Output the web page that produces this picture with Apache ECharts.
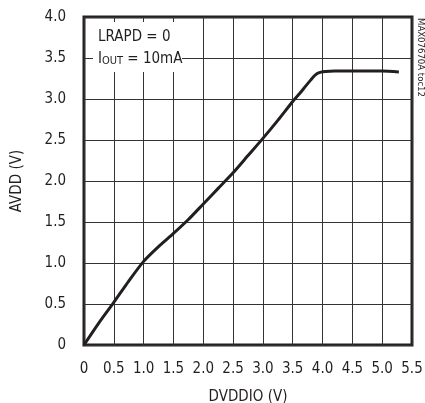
<!DOCTYPE html>
<html>
<head>
<meta charset="utf-8">
<script src="https://cdn.jsdelivr.net/npm/echarts@6/dist/echarts.min.js"></script>
<style>
html,body{margin:0;padding:0;background:#fff;}
#c{width:425px;height:403px;}
</style>
</head>
<body>
<div id="c"></div>
<script>
// DVDDIO (V)
var xValues = [0, 0.25, 0.5, 0.75, 1.0, 1.25, 1.5, 1.75, 2.0, 2.25, 2.5, 2.75, 3.0, 3.25, 3.5, 3.62, 3.72, 3.8, 3.86, 3.91, 3.96, 4.05, 4.2, 4.5, 4.8, 5.0, 5.28];
// AVDD (V)
var yValues = [0, 0.27, 0.52, 0.78, 1.02, 1.2, 1.36, 1.53, 1.72, 1.91, 2.1, 2.31, 2.52, 2.74, 2.97, 3.07, 3.16, 3.23, 3.28, 3.31, 3.325, 3.335, 3.34, 3.34, 3.34, 3.34, 3.33];
var xTicks = [0, 0.5, 1.0, 1.5, 2.0, 2.5, 3.0, 3.5, 4.0, 4.5, 5.0, 5.5];
var yTicks = [0, 0.5, 1.0, 1.5, 2.0, 2.5, 3.0, 3.5, 4.0];
var xName = 'DVDDIO (V)';
var yName = 'AVDD (V)';
var noteLine1 = 'LRAPD = 0';
var noteLine2 = '{n|I}{s|OUT}{n| = 10mA}';
var sideNote = 'MAX07670A toc12';

var FONT = '"Liberation Sans Narrow", "DejaVu Sans Condensed", "Liberation Sans", sans-serif';
var INK = '#231f20';

var data = xValues.map(function (x, i) { return [x, yValues[i]]; });
function fmt(v) { return v === 0 ? '0' : v.toFixed(1); }

var chart = echarts.init(document.getElementById('c'), null, {renderer: 'canvas'});
chart.setOption({
  animation: false,
  backgroundColor: '#fff',
  grid: {left: 84, right: 13, top: 17, bottom: 58, containLabel: false, outerBoundsMode: 'none',
         show: true, borderWidth: 3, borderColor: INK, backgroundColor: 'transparent'},
  xAxis: {
    type: 'value', min: xTicks[0], max: xTicks[xTicks.length - 1], interval: 0.5,
    name: xName, nameLocation: 'middle', nameGap: 45,
    nameTextStyle: {fontFamily: FONT, fontSize: 15, color: INK},
    axisLine: {show: false}, axisTick: {show: false},
    axisLabel: {margin: 17, fontFamily: FONT, fontSize: 15, color: INK, formatter: fmt},
    splitLine: {show: true, lineStyle: {color: '#333', width: 1}}
  },
  yAxis: {
    type: 'value', min: yTicks[0], max: yTicks[yTicks.length - 1], interval: 0.5,
    name: yName, nameLocation: 'middle', nameGap: 59,
    nameTextStyle: {fontFamily: FONT, fontSize: 15, color: INK},
    axisLine: {show: false}, axisTick: {show: false},
    axisLabel: {margin: 18, fontFamily: FONT, fontSize: 15, color: INK, formatter: fmt},
    splitLine: {show: true, lineStyle: {color: '#333', width: 1}}
  },
  series: [{
    type: 'line', data: data, smooth: 0.25, showSymbol: false, symbol: 'none',
    lineStyle: {color: INK, width: 3}, z: 3
  }],
  graphic: [
    {type: 'rect', shape: {x: 93, y: 22, width: 89, height: 50}, style: {fill: '#fff'}, z: 10},
    {type: 'text', x: 98, y: 37, z: 11, style: {text: noteLine1, font: '15px ' + FONT, fill: INK, verticalAlign: 'middle'}},
    {type: 'text', x: 98, y: 58, z: 11, style: {
      text: noteLine2, fill: INK, verticalAlign: 'middle',
      rich: {
        n: {fontFamily: FONT, fontSize: 15, color: INK, verticalAlign: 'bottom', lineHeight: 18},
        s: {fontFamily: FONT, fontSize: 11, color: INK, verticalAlign: 'bottom', lineHeight: 13}
      }
    }},
    {type: 'text', x: 420, y: 18, rotation: -Math.PI / 2, z: 11, style: {text: sideNote, font: '9.5px ' + FONT, fill: INK, align: 'left', verticalAlign: 'middle'}}
  ]
});
</script>
</body>
</html>
